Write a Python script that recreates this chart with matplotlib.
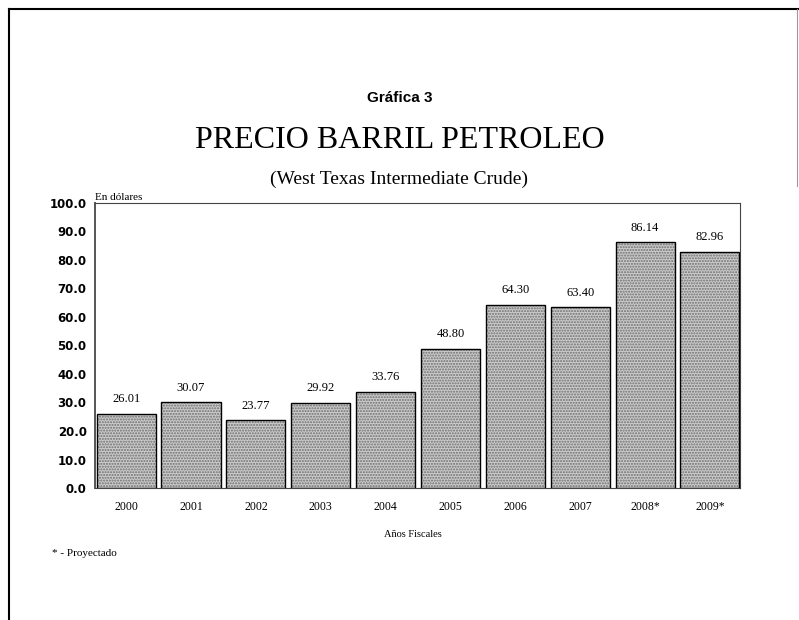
import numpy as np
import matplotlib.pyplot as plt
from matplotlib.lines import Line2D

# Data
years = ['2000', '2001', '2002', '2003', '2004', '2005', '2006', '2007', '2008*', '2009*']
prices = [26.01, 30.07, 23.77, 29.92, 33.76, 48.80, 64.30, 63.40, 86.14, 82.96]
yticks = [0, 10, 20, 30, 40, 50, 60, 70, 80, 90, 100]

fig = plt.figure(figsize=(7.99, 6.20), dpi=100)
ax = fig.add_axes([0.1189, 0.2129, 0.807, 0.4597])

x = np.arange(len(years))
# stippled fill, then black outline on top
ax.bar(x, prices, width=0.91, color='#cbcbcb', hatch='......', edgecolor='#6e6e6e', linewidth=0)
ax.bar(x, prices, width=0.91, fill=False, edgecolor='black', linewidth=1.0)

for xi, v in zip(x, prices):
    ax.text(xi, v + 3.0, f'{v:.2f}', ha='center', va='bottom', fontsize=9, family='Liberation Serif')

ax.set_xlim(-0.48, 9.46)
ax.set_ylim(0, 100)
ax.set_yticks(yticks)
ax.set_yticklabels([f'{t:.1f}' for t in yticks], fontsize=8.5, fontweight='bold', family='DejaVu Sans')
ax.set_xticks(x)
ax.set_xticklabels(years, fontsize=8.5, family='Liberation Serif')
ax.tick_params(length=0, pad=6)
ax.tick_params(axis='x', pad=9)
ax.spines['left'].set_linewidth(1.4)
ax.spines['left'].set_color('#555555')
for s in ['top', 'right', 'bottom']:
    ax.spines[s].set_linewidth(0.8)
    ax.spines[s].set_color('#444444')

ax.text(0.0, 1.005, 'En dólares', transform=ax.transAxes, ha='left', va='bottom',
        fontsize=8, family='Liberation Serif')

fig.text(0.5, 0.842, 'Gráfica 3', ha='center', va='center', fontsize=11,
         fontweight='bold', family='Liberation Sans')
fig.text(0.5, 0.774, 'PRECIO BARRIL PETROLEO', ha='center', va='center', fontsize=23,
         family='Liberation Serif')
fig.text(0.5, 0.71, '(West Texas Intermediate Crude)', ha='center', va='center', fontsize=14,
         family='Liberation Serif')
fig.text(0.517, 0.138, 'Años Fiscales', ha='center', va='center', fontsize=7.5,
         family='Liberation Serif')
fig.text(0.065, 0.108, '* - Proyectado', ha='left', va='center', fontsize=8,
         family='Liberation Serif')

# page frame (left and top edges of the scanned box)
fig.add_artist(Line2D([0.011, 0.011], [0.0, 0.985], color='black', linewidth=1.5))
fig.add_artist(Line2D([0.011, 1.0], [0.985, 0.985], color='black', linewidth=1.5))
fig.add_artist(Line2D([0.998, 0.998], [0.70, 0.985], color='#999999', linewidth=0.8))

fig.savefig('out.png', dpi=100)
